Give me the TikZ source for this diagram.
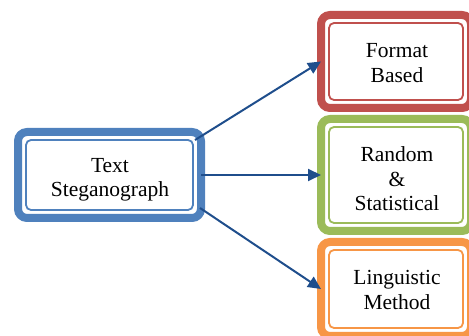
\documentclass[tikz,border=0pt]{standalone}
\usepackage{fontspec}
\setmainfont{Liberation Serif}
\usetikzlibrary{arrows.meta}
\definecolor{cblue}{HTML}{4F81BD}
\definecolor{cred}{HTML}{C0504D}
\definecolor{cgreen}{HTML}{9BBB59}
\definecolor{corange}{HTML}{F79646}
\definecolor{carrow}{RGB}{31,78,140}
\begin{document}
\begin{tikzpicture}[x=1pt,y=-1pt,
  band/.style={draw=#1, line width=8pt, rounded corners=9pt, fill=white,
    inner sep=0pt, outer sep=0pt},
  txt/.style={align=center, inner sep=0pt, font=\fontsize{21.5}{24.5}\selectfont},
  innerline/.style={draw=#1, line width=1.8pt, rounded corners=5pt},
  arr/.style={draw=carrow, line width=2pt, -{Triangle[length=13pt,width=12pt]}}]
\useasboundingbox (0,0) rectangle (469,336);
\node[band=cblue, minimum width=183pt, minimum height=86pt] (T) at (109.5,175) {};
\node[band=cred, minimum width=150pt, minimum height=93pt] (F) at (396,61.5) {};
\node[band=cgreen, minimum width=150pt, minimum height=112pt] (G) at (396,175) {};
\node[band=corange, minimum width=150pt, minimum height=94pt] (L) at (396,289) {};
\draw[innerline=cblue] ([shift={(8,8)}]T.north west) rectangle ([shift={(-8,-8)}]T.south east);
\draw[innerline=cred] ([shift={(8,8)}]F.north west) rectangle ([shift={(-8,-8)}]F.south east);
\draw[innerline=cgreen] ([shift={(8,8)}]G.north west) rectangle ([shift={(-8,-8)}]G.south east);
\draw[innerline=corange] ([shift={(8,8)}]L.north west) rectangle ([shift={(-8,-8)}]L.south east);
\node[txt] (Tt) at (110,180) {Text\\Steganograph};
\node[txt] (Ft) at (397,63) {Format\\Based};
\node[txt] (Gt) at (397,179) {Random\\\&\\Statistical};
\node[txt] (Lt) at (397,290) {Linguistic\\Method};
\draw[arr] ([shift={(-6,8)}]T.north east) -- (F.west);
\draw[arr] (T.east) -- (G.west);
\draw[arr] ([shift={(-1,-10)}]T.south east) -- (L.west);
\end{tikzpicture}
\end{document}
